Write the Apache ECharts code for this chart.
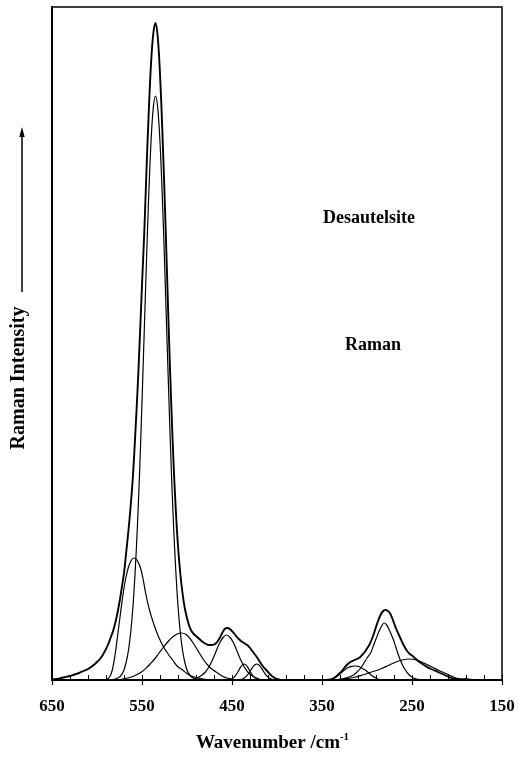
<!DOCTYPE html>
<html>
<head>
<meta charset="utf-8">
<script src="https://cdn.jsdelivr.net/npm/echarts@6/dist/echarts.min.js"></script>
<style>
html,body{margin:0;padding:0;background:#fff;}
#chart{width:519px;height:762px;}
</style>
</head>
<body>
<div id="chart"></div>
<script>
// ---- Data (wavenumber /cm-1, intensity in arbitrary units) ----
const majorTicks = [150, 250, 350, 450, 550, 650];
const minorTicks = [150,170,190,210,230,250,270,290,310,330,350,370,390,410,430,450,470,490,510,530,550,570,590,610,630,650];

const envelope = [[650,0.5],[645,1],[640,2],[635,3],[630,4],[625,5.5],[620,7],[615,9],[610,11],[605,14],[600,18],[595,23],[590,31],[587.5,36],[585,42],[582.5,48],[580,56],[577.5,66],[575,78],[572.5,92],[570,107],[567.5,128],[565,150],[562.5,175],[560,205],[557.5,245],[555,289],[552.5,340],[550,395],[547.5,447],[545,510],[542.5,568],[540,616],[537.5,646],[535,657],[532.5,643],[530,606],[527.5,552],[525,487],[522.5,415],[520,342],[517.5,276],[515,218],[512.5,171],[510,134],[507.5,107],[505,87],[502.5,72],[500,62],[497.5,54],[495,49],[492.5,46],[490,44],[487.5,42],[485,40],[482.5,38],[480,36.5],[477.5,35.5],[475,35],[472.5,35],[470,35.5],[467.5,37],[465,40],[462.5,44],[460,48.5],[457.5,51.5],[455,52],[452.5,51],[450,49],[447.5,46.5],[445,43.5],[442.5,41],[440,39],[437.5,37.5],[435,36],[432.5,34.5],[430,32],[427.5,29],[425,26],[422.5,23],[420,19.5],[417.5,16],[415,13],[412.5,10.5],[410,8],[407.5,5.5],[405,3.5],[402.5,2],[400,1],[397.5,0.4],[395,0],[345,0],[340,0.5],[337.5,1.5],[335,3],[332.5,5],[330,7],[327.5,9.5],[325,12.5],[322.5,15],[320,17],[317.5,18.5],[315,19.5],[312.5,20.5],[310,21.5],[307.5,23],[305,25.5],[302.5,28],[300,31.5],[297.5,35],[295,40],[292.5,46],[290,53],[287.5,59.5],[285,65],[282.5,68.5],[280,70],[277.5,69.5],[275,67.5],[272.5,63],[270,57],[267.5,51],[265,46],[262.5,41],[260,36],[257.5,32],[255,28.5],[252.5,26],[250,24.5],[247.5,22.5],[245,20.5],[242.5,18.5],[240,17],[237.5,15.5],[235,14],[232.5,12.5],[230,11.5],[225,9.5],[220,7.5],[215,5.5],[210,3.5],[205,1.5],[200,0.7],[195,0.8],[190,1],[185,0.3],[180,0],[150,0]];

const band535 = [[585,0],[580,1],[575,3],[572.5,5.6],[570,10],[567.5,18],[565,30],[562.5,48],[560,74],[557.5,110],[555,156],[552.5,212],[550,278],[547.5,349],[545,420],[542.5,485],[540,538],[537.5,572],[535,584],[532.5,572],[530,538],[527.5,485],[525,420],[522.5,349],[520,278],[517.5,212],[515,156],[512.5,110],[510,74],[507.5,48],[505,30],[502.5,18],[500,10],[497.5,5.6],[495,3],[490,1],[485,0]];

const band559 = [[590,0],[586,3],[583,10],[580,25],[577,45],[574,66],[571,86],[568,102],[565,113],[562,119.5],[559,122],[556,120.5],[552,113],[549,102],[546,87],[542,71],[538,59],[535,51],[531,42],[526,33],[521,26],[516,20],[511,14],[505,10],[500,6.5],[495,4],[490,2.5],[485,1.5],[480,0.7],[472,0]];

const band506 = [[576,0],[571,1],[566,2],[561,3.2],[556,5.2],[551,7.8],[546,11.4],[541,16],[536,21],[531,27],[526,33],[521,38.5],[516,43],[511,46],[506,47],[501,45.4],[496,40.7],[491,34],[486,26.5],[481,19.5],[476,14],[471,10],[466,7],[461,4],[456,2],[451,1],[446,0]];

const band456 = [[496,0],[492,1],[488,2.5],[484,4.5],[480,7.5],[476,12.5],[472,19.5],[468,28],[464,36.5],[460,42.5],[456,45],[452,42.5],[448,36.5],[444,28],[440,19.5],[436,12.5],[432,7.5],[428,4.5],[424,2.5],[420,1],[416,0]];

const band437 = [[455,0],[452.5,0.4],[450.5,1],[448.5,2.1],[446.5,3.9],[444.5,6.5],[442.5,9.6],[440.5,12.8],[438.5,15.1],[436.5,16],[434.5,15.1],[432.5,12.8],[430.5,9.6],[428.5,6.5],[426.5,3.9],[424.5,2.1],[422.5,1],[420.5,0.4],[417,0]];

const band423 = [[443,0],[440.5,0.5],[438.5,1],[436.5,1.9],[434.5,3.4],[432.5,5.4],[430.5,8],[428.5,10.8],[426.5,13.5],[424.5,15.3],[422.5,16],[420.5,15.3],[418.5,13.5],[416.5,10.8],[414.5,8],[412.5,5.4],[410.5,3.4],[408.5,1.9],[406.5,1],[404.5,0.5],[401,0]];

const band313 = [[342,0],[337,2],[333,4],[329,7],[325,10],[321,12.5],[317,13.7],[313,14],[309,13.5],[305,11.5],[302,10],[298,7],[294,4],[290,2],[286,0]];

const band281 = [[340,0],[333,0.5],[326,1.5],[320,3],[315,5],[311,8],[307,12],[304,16],[300,22],[296,27],[293,34],[290,41],[287,48],[284,53.5],[281,57],[278.5,55.5],[276,51.5],[273,45.5],[270.5,40],[268,33],[265.5,26],[263,20],[260,14],[257,9.5],[254,6],[251,3.5],[247,1.5],[242,0.5],[236,0]];

const band254 = [[335,0],[325,1],[315,2.5],[305,5],[295,8],[285,11],[275,15],[265,19],[254,21],[245,20],[237,17],[228,13],[219,9],[210,5.5],[204,3],[197,1],[190,0]];

const components = [band535, band559, band506, band456, band437, band423, band313, band281, band254];

// ---- Chart ----
const FONT = '"Liberation Serif", "Times New Roman", serif';
const chart = echarts.init(document.getElementById('chart'), null, {renderer: 'canvas'});

const series = [];
components.forEach(function (c) {
  series.push({
    type: 'line', data: c, showSymbol: false, smooth: 0.35, silent: true,
    lineStyle: {color: '#000', width: 1.2}, z: 2
  });
});
series.push({
  type: 'line', data: envelope, showSymbol: false, smooth: 0.35, silent: true,
  lineStyle: {color: '#000', width: 1.9}, z: 3
});

chart.setOption({
  animation: false,
  backgroundColor: '#fff',
  grid: {left: 52, top: 7, width: 450, height: 673, show: true, borderColor: '#000', borderWidth: 1.5, containLabel: false},
  xAxis: [{
    type: 'value', min: 150, max: 650, inverse: true, position: 'bottom',
    axisLine: {show: true, lineStyle: {color: '#000', width: 2}},
    axisTick: {show: true, inside: false, length: 5, customValues: majorTicks, lineStyle: {color: '#000', width: 1.2}},
    axisLabel: {show: true, customValues: majorTicks, margin: 18, color: '#000', fontFamily: FONT, fontWeight: 'bold', fontSize: 17},
    splitLine: {show: false},
    name: '{a|Wavenumber /cm}{s|-1}',
    nameLocation: 'middle', nameGap: 52,
    nameTextStyle: {
      color: '#000', fontFamily: FONT, fontWeight: 'bold', fontSize: 19, padding: [0, 9, 0, 0],
      rich: {
        a: {color: '#000', fontFamily: FONT, fontWeight: 'bold', fontSize: 19, lineHeight: 23},
        s: {color: '#000', fontFamily: FONT, fontWeight: 'bold', fontSize: 11, verticalAlign: 'top', lineHeight: 23, padding: [0, 0, 8, 0]}
      }
    }
  }, {
    type: 'value', min: 150, max: 650, inverse: true, position: 'bottom',
    axisLine: {show: false},
    axisTick: {show: true, inside: true, length: 5, customValues: minorTicks, lineStyle: {color: '#000', width: 1}},
    axisLabel: {show: false},
    splitLine: {show: false}
  }],
  yAxis: {
    type: 'value', min: 0, max: 673,
    axisLine: {show: true, lineStyle: {color: '#000', width: 2}},
    axisTick: {show: false}, axisLabel: {show: false}, splitLine: {show: false}
  },
  graphic: [
    {type: 'text', x: 19, y: 378, rotation: Math.PI / 2,
      style: {text: 'Raman Intensity', fill: '#000', font: 'bold 20px ' + FONT, textAlign: 'center', textVerticalAlign: 'middle'}},
    {type: 'line', shape: {x1: 22, y1: 292, x2: 22, y2: 134}, style: {stroke: '#000', lineWidth: 1.5}},
    {type: 'polygon', shape: {points: [[22, 127], [19.3, 137], [24.7, 137]]}, style: {fill: '#000'}},
    {type: 'text', x: 369, y: 218,
      style: {text: 'Desautelsite', fill: '#000', font: 'bold 18px ' + FONT, textAlign: 'center', textVerticalAlign: 'middle'}},
    {type: 'text', x: 373, y: 345,
      style: {text: 'Raman', fill: '#000', font: 'bold 18px ' + FONT, textAlign: 'center', textVerticalAlign: 'middle'}}
  ],
  series: series
});
</script>
</body>
</html>
